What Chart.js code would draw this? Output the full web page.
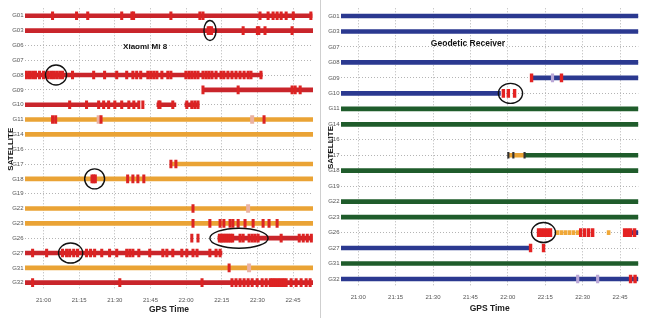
<!DOCTYPE html>
<html><head><meta charset="utf-8">
<script src="https://cdn.jsdelivr.net/npm/chart.js@4/dist/chart.umd.min.js"></script>
<style>
html,body{margin:0;padding:0;background:#fff;}
#wrap{position:relative;width:650px;height:318px;overflow:hidden;background:#fff;}
#left{position:absolute;left:0;top:0;}
#right{position:absolute;left:322px;top:0;}
#sep{position:absolute;left:320px;top:0;width:1px;height:318px;background:#cfcfcf;}
</style></head><body>
<div id="wrap">
<canvas id="left" width="320" height="318"></canvas>
<div id="sep"></div>
<canvas id="right" width="328" height="318"></canvas>
</div>
<script>
// ---------- DATA (time = minutes after 20:00 GPS time) ----------
const mi8Sats = ['G01','G03','G06','G07','G08','G09','G10','G11','G14','G16','G17','G18','G19','G22','G23','G26','G27','G31','G32'];
const geoSats = ['G01','G03','G07','G08','G09','G10','G11','G14','G16','G17','G18','G19','G22','G23','G26','G27','G31','G32'];
const timeTicks = [60,75,90,105,120,135,150,165];
const timeLabels = ['21:00','21:15','21:30','21:45','22:00','22:15','22:30','22:45'];
const mi8Span = [52.2, 173.4];
const geoSpan = [53.1, 172.3];

// Xiaomi Mi 8 tracks [satellite, start, end]
const mi8RedTracks = [
  ['G01',52.2,173.0],['G03',52.2,173.4],['G08',52.2,152.0],['G09',127.1,173.4],
  ['G10',52.2,99.7],['G10',107.7,115.7],['G10',119.5,125.4],
  ['G26',133.4,173.0],['G27',52.2,135.1],['G32',52.2,173.4]
];
const mi8OrangeTracks = [
  ['G11',52.2,173.4],['G14',52.2,173.4],['G17',113.6,173.4],['G18',52.2,173.4],
  ['G22',52.2,173.4],['G23',52.2,173.4],['G31',52.2,173.4]
];
// Xiaomi Mi 8 cycle slips / flags [satellite, times]
const mi8Slips = [
  ['G01',[63.8,73.9,78.6,92.9,97.2,97.9,113.6,125.8,127.1,151.1,154.5,156.6,158.3,160.0,162.1,165.1,172.5]],
  ['G03',[129.3,130.0,130.7,144.0,150.0,150.6,153.2,164.6]],
  ['G08',[52.8,54.1,55.4,56.6,58.3,60.0,61.7,63.0,64.2,65.5,66.8,68.0,72.2,81.1,85.7,90.8,95.0,97.6,99.2,100.9,
          103.9,105.1,106.4,107.7,109.8,112.3,113.6,119.9,121.2,122.4,123.7,125.0,127.1,128.4,129.6,130.9,132.6,
          134.7,135.9,137.6,139.3,141.0,142.7,144.4,146.1,147.3,151.5]],
  ['G09',[127.1,141.9,164.6,165.9,168.0]],
  ['G10',[71.0,78.1,83.2,85.3,87.4,90.0,92.9,95.9,98.0,100.1,101.8,108.5,109.0,114.4,120.3,122.4,123.7,125.0]],
  ['G11',[63.8,65.1,84.2,152.8]],
  ['G17',[113.6,115.7]],
  ['G18',[80.4,81.1,81.8,95.4,97.6,99.7,102.2]],
  ['G22',[122.9]],
  ['G23',[122.9,130.0,134.3,135.9,138.5,139.7,141.9,144.8,148.2,152.4,154.9,158.3]],
  ['G26',[122.4,125.0,134.0,134.8,135.6,136.4,137.2,138.0,138.8,139.6,142.7,144.0,146.5,147.8,149.0,150.3,160.0,167.6,169.3,171.0,172.7]],
  ['G27',[55.4,61.3,68.0,69.7,71.0,72.7,74.3,78.1,79.8,81.5,84.5,87.8,90.8,95.0,96.3,97.6,100.1,104.7,110.2,111.9,
          114.4,118.2,120.3,122.9,124.6,130.0,132.6,134.3]],
  ['G31',[138.1]],
  ['G32',[55.4,92.1,126.7,139.3,141.0,142.7,144.4,146.1,147.8,149.9,152.0,153.7,155.4,156.2,157.0,157.8,158.7,
          159.5,160.4,161.2,162.1,164.2,166.3,168.4,170.5,172.2]]
];
const mi8PaleSlips = [
  ['G11',[83.2,147.8]],['G22',[146.1]],['G31',[146.5]]
];
const mi8Circles = [['G03',127.5,132.6],['G08',60.8,69.7],['G18',77.3,85.7],['G26',130.0,154.5],['G27',66.3,76.5]];

// Geodetic receiver tracks
const geoBlueTracks = [
  ['G01',53.1,172.3],['G03',53.1,172.3],['G08',53.1,172.3],['G09',129.5,172.3],
  ['G10',53.1,117.0],['G26',169.2,172.3],['G27',53.1,129.1],['G32',53.1,172.3]
];
const geoGreenTracks = [
  ['G11',53.1,172.3],['G14',53.1,172.3],['G17',126.7,172.3],['G18',53.1,172.3],
  ['G22',53.1,172.3],['G23',53.1,172.3],['G31',53.1,172.3]
];
const geoOrangeTracks = [['G17',120.2,126.7]];
const geoSlips = [
  ['G09',[129.5,141.5]],
  ['G10',[118.2,120.2,122.7]],
  ['G26',[132.3,133.5,134.7,135.9,137.1,149.2,150.8,152.4,154.0,166.8,168.0,169.2,170.8]],
  ['G27',[129.1,134.3]],
  ['G32',[169.2,171.0]]
];
const geoOrangeDots = [['G26',[139.9,141.5,143.1,144.7,146.3,148.0,160.4]]];
const geoPaleSlips = [['G09',[137.9]],['G32',[148.0,156.0]]];
const geoDarkTicks = [['G17',[120.2,122.2,126.7]]];
const geoCircles = [['G10',116.2,125.9],['G26',129.5,139.1]];

// ---------- STYLE ----------
const FONT = "'Liberation Sans', Arial, sans-serif";
const GRID = '#b4b4b4';

function trackSet(entries, color, thick, order) {
  return { type:'bar', data: entries.map(([s,a,b]) => ({y:s, x:[a,b]})),
    backgroundColor:color, barThickness:thick, grouped:false, borderWidth:0, order };
}
function markSet(entries, color, thick, halfW, order) {
  const pts = [];
  entries.forEach(([s,ts]) => ts.forEach(t => pts.push({y:s, x:[t-halfW, t+halfW]})));
  return { type:'bar', data: pts, backgroundColor:color, barThickness:thick, grouped:false, borderWidth:0, order };
}
function overlay(circles, title, tx, ty, tfont) {
  return {
    id:'overlay',
    afterDatasetsDraw(chart) {
      const {ctx, chartArea:a, scales:{x, y}} = chart;
      ctx.save();
      ctx.strokeStyle = '#111'; ctx.lineWidth = 1.4;
      circles.forEach(([s,t0,t1]) => {
        const cy = y.getPixelForValue(chart.data.labels.indexOf(s));
        const x0 = x.getPixelForValue(t0), x1 = x.getPixelForValue(t1);
        ctx.beginPath();
        ctx.ellipse((x0+x1)/2, cy, (x1-x0)/2, 10, 0, 0, Math.PI*2);
        ctx.stroke();
      });
      ctx.font = tfont; ctx.fillStyle = '#111';
      ctx.textAlign = 'center'; ctx.textBaseline = 'middle';
      ctx.fillText(title, a.left + a.width*tx, a.top + a.height*ty);
      ctx.restore();
    }
  };
}
function makePanel(canvas, sats, span, datasets, p) {
  return new Chart(canvas, {
    type:'bar',
    data:{ labels:sats, datasets },
    options:{
      indexAxis:'y', responsive:false, animation:false,
      layout:{ padding:{ left:0, right:p.padRight, top:p.padTop, bottom:0 } },
      plugins:{ legend:{display:false}, tooltip:{enabled:false} },
      scales:{
        x:{ type:'linear', min:span[0], max:span[1],
          afterBuildTicks: s => { s.ticks = timeTicks.map(v => ({value:v})); },
          afterFit: s => { s.height = p.xHeight; },
          ticks:{ callback: v => timeLabels[timeTicks.indexOf(v)], font:{family:FONT, size:6}, color:'#555',
                  padding:p.xTickPad, maxRotation:0, autoSkip:false },
          grid:{ color:GRID, drawTicks:false, lineWidth:1 },
          border:{ display:false, dash:[1,2] },
          title:{ display:true, text:'GPS Time', color:'#222', font:{family:FONT, size:8.5, weight:'bold'},
                  padding:{top:0, bottom:p.xTitlePad} } },
        y:{ type:'category', offset:true,
          afterFit: s => { s.width = p.yWidth; },
          ticks:{ font:{family:FONT, size:6}, color:'#555', padding:1.5, autoSkip:false },
          grid:{ color:GRID, drawTicks:false, offset:false, lineWidth:1 },
          border:{ display:false, dash:[1,2] },
          title:{ display:true, text:'SATELLITE', color:'#111', font:{family:FONT, size:8, weight:'bold'},
                  padding:{top:p.yTitlePad, bottom:0} } }
      }
    },
    plugins:[ overlay(p.circles, p.title, p.tx, p.ty, p.tfont) ]
  });
}

makePanel(document.getElementById('left'), mi8Sats, mi8Span, [
  markSet(mi8Slips, '#dc2323', 8, 0.5, 1),
  markSet(mi8PaleSlips, '#eab2a2', 8, 0.7, 1),
  trackSet(mi8RedTracks, '#c9252b', 4, 2),
  trackSet(mi8OrangeTracks, '#eaa335', 4, 2)
], { padRight:7, padTop:8.3, xHeight:27.9, yWidth:25, xTickPad:7, xTitlePad:3, yTitlePad:5.5,
     circles:mi8Circles, title:'Xiaomi Mi 8', tx:0.417, ty:0.137, tfont:"bold 8px 'Liberation Sans', Arial, sans-serif" });

makePanel(document.getElementById('right'), geoSats, geoSpan, [
  markSet(geoSlips, '#e42222', 8, 0.55, 1),
  markSet(geoOrangeDots, '#f0a838', 4, 0.6, 1),
  markSet(geoPaleSlips, '#b9a6d6', 8, 0.5, 1),
  markSet(geoDarkTicks, '#333333', 6, 0.3, 1),
  trackSet(geoBlueTracks, '#2b3990', 4, 2),
  trackSet(geoGreenTracks, '#1f5c2b', 4, 2),
  trackSet(geoOrangeTracks, '#eaa335', 4, 2)
], { padRight:11.7, padTop:8.3, xHeight:31.3, yWidth:19, xTickPad:7, xTitlePad:4, yTitlePad:4,
     circles:geoCircles, title:'Geodetic Receiver', tx:0.427, ty:0.126, tfont:"bold 8.5px 'Liberation Sans', Arial, sans-serif" });
</script>
</body></html>
